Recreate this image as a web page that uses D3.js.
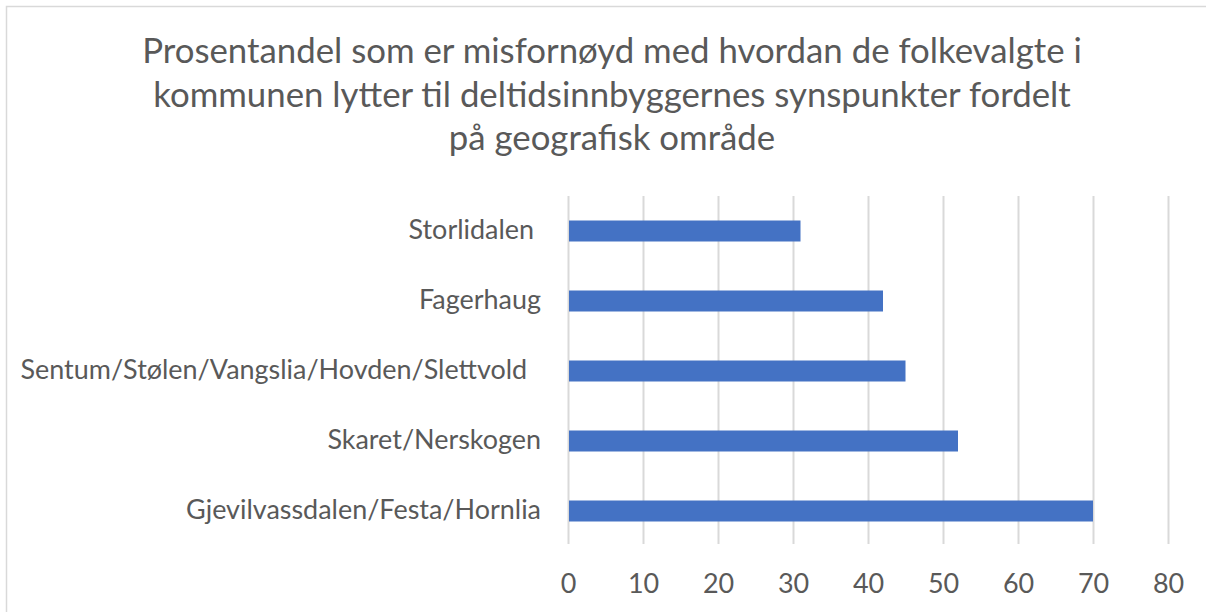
<!DOCTYPE html>
<html>
<head>
<meta charset="utf-8">
<script src="https://cdn.jsdelivr.net/npm/d3@7"></script>
<style>
  html, body { margin: 0; padding: 0; background: #fff; }
  svg { display: block; }
  text { font-family: Lato, "Open Sans", sans-serif; fill: #595959; white-space: pre; }
</style>
</head>
<body>
<svg id="chart" width="1206" height="612"></svg>
<script>
// ---- data ----
const titleLines = [
  "Prosentandel som er misfornøyd med hvordan de folkevalgte i",
  "kommunen lytter til deltidsinnbyggernes synspunkter fordelt",
  "på geografisk område"
];
const categories = [
  "Storlidalen ",
  "Fagerhaug",
  "Sentum/Stølen/Vangslia/Hovden/Slettvold  ",
  "Skaret/Nerskogen",
  "Gjevilvassdalen/Festa/Hornlia"
];
const values = [31, 42, 45, 52, 70];
const tickValues = [0, 10, 20, 30, 40, 50, 60, 70, 80];

// ---- layout ----
const svg = d3.select("#chart");
const plotLeft = 568, plotRight = 1168, plotTop = 196, plotBottom = 546;

// chart area border
svg.append("rect")
  .attr("x", 6.5).attr("y", 6.5)
  .attr("width", 1300).attr("height", 700)
  .attr("fill", "#fff").attr("stroke", "#d9d9d9").attr("stroke-width", 1.5);

// helper: fit font size so a string has a target width
function fitSize(str, target) {
  const t = svg.append("text").attr("font-size", 100).text(str);
  const w = t.node().getComputedTextLength();
  t.remove();
  return 100 * target / w;
}
const titleSize = fitSize(titleLines[0], 940);
const labelSize = (fitSize("Gjevilvassdalen/Festa/Hornlia", 360) +
                   fitSize("Sentum/Stølen/Vangslia/Hovden/Slettvold", 500)) / 2;

// title
svg.append("g").selectAll("text")
  .data(titleLines).join("text")
  .attr("x", 612)
  .attr("y", (d, i) => 63 + i * 43.5)
  .attr("text-anchor", "middle")
  .attr("font-size", titleSize)
  .text(d => d);

// scales
const x = d3.scaleLinear().domain([0, 80]).range([plotLeft, plotRight]);
const y = d3.scaleBand().domain(categories).range([plotTop, plotBottom])
  .paddingInner(0.7).paddingOuter(0.35);

// gridlines
const grid = svg.append("g")
  .attr("transform", `translate(0,${plotBottom - 2})`)
  .call(d3.axisBottom(x).tickValues(tickValues).tickSize(-(plotBottom - 2 - plotTop)).tickFormat(""));
grid.select(".domain").remove();
grid.selectAll("line").attr("stroke", "#d9d9d9").attr("stroke-width", 2);

// bars
svg.append("g").selectAll("rect")
  .data(values).join("rect")
  .attr("x", x(0) + 1)
  .attr("y", (d, i) => y(categories[i]))
  .attr("width", d => x(d) - x(0) - 1)
  .attr("height", y.bandwidth())
  .attr("fill", "#4472c4");

// x tick labels
const xAxis = svg.append("g")
  .attr("transform", `translate(0,${plotBottom})`)
  .call(d3.axisBottom(x).tickValues(tickValues).tickSize(0).tickPadding(0));
xAxis.select(".domain").remove();
xAxis.selectAll("text")
  .attr("dy", null)
  .attr("y", 47)
  .attr("font-size", labelSize)
  .attr("fill", "#595959")
  .style("font-family", "Lato, 'Open Sans', sans-serif");

// category labels
const yAxis = svg.append("g")
  .attr("transform", `translate(${plotLeft},0)`)
  .call(d3.axisLeft(y).tickSize(0).tickPadding(27));
yAxis.select(".domain").remove();
yAxis.selectAll("text")
  .attr("dy", null)
  .attr("y", 8)
  .attr("font-size", labelSize)
  .attr("fill", "#595959")
  .style("font-family", "Lato, 'Open Sans', sans-serif");
</script>
</body>
</html>
